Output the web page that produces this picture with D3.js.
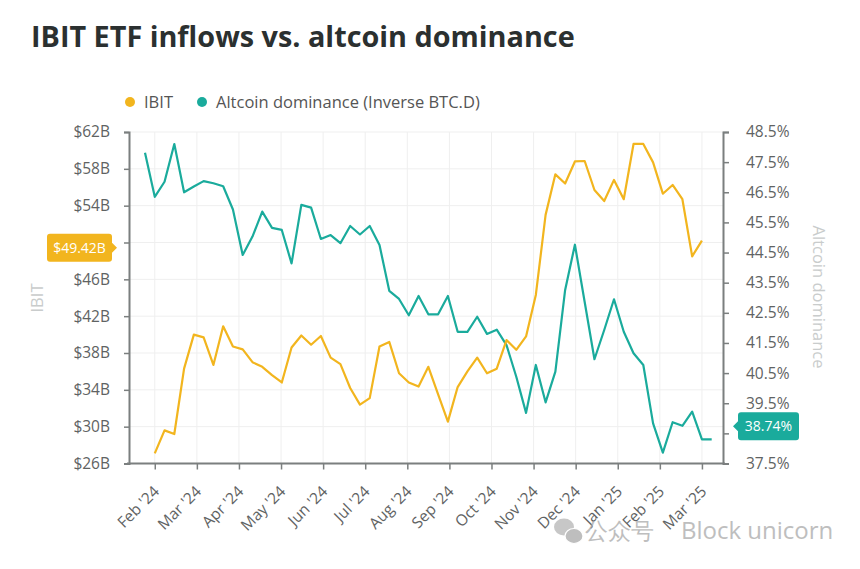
<!DOCTYPE html>
<html>
<head>
<meta charset="utf-8">
<script src="https://cdn.jsdelivr.net/npm/d3@7"></script>
<style>
  html, body { margin: 0; padding: 0; background: #fff; }
  text { font-family: "Open Sans", "Noto Sans", sans-serif; }
</style>
</head>
<body>
<div id="app"></div>
<script>
// weekly points, index 0 = one week before the Feb '24 tick
const months = ["Feb '24", "Mar '24", "Apr '24", "May '24", "Jun '24", "Jul '24", "Aug '24",
  "Sep '24", "Oct '24", "Nov '24", "Dec '24", "Jan '25", "Feb '25", "Mar '25"];

// IBIT, $B, weeks 1..57
const ibitStart = 1;
const ibit = [27.1, 29.6, 29.2, 36.3, 40.0, 39.7, 36.7, 40.9, 38.7, 38.4, 37.0, 36.5, 35.6, 34.8,
  38.6, 39.9, 38.9, 39.85, 37.5, 36.8, 34.2, 32.4, 33.1, 38.7, 39.2, 35.8, 34.8, 34.35,
  36.5, 33.5, 30.55, 34.3, 36.0, 37.5, 35.8, 36.3, 39.4, 38.35, 39.8, 44.3, 53.0, 57.4,
  56.4, 58.8, 58.85, 55.7, 54.5, 56.8, 54.7, 60.7, 60.7, 58.7, 55.3, 56.25, 54.7, 48.5, 50.2];

// Altcoin dominance (inverse BTC.D), %, weeks 0..58
const altStart = 0;
const altcoin = [47.81, 46.35, 46.85, 48.1, 46.5, 46.69, 46.87, 46.8, 46.7, 45.93, 44.42, 45.03,
  45.86, 45.32, 45.25, 44.14, 46.08, 45.99, 44.95, 45.08, 44.81, 45.38, 45.1, 45.38, 44.75,
  43.23, 42.96, 42.42, 43.06, 42.45, 42.45, 43.06, 41.87, 41.87, 42.37, 41.8, 41.94, 41.43,
  40.38, 39.18, 40.77, 39.53, 40.55, 43.26, 44.76, 42.86, 40.96, 41.93, 42.95, 41.87, 41.16,
  40.77, 38.83, 37.86, 38.87, 38.75, 39.22, 38.3, 38.3];

const leftTicks = [26, 30, 34, 38, 42, 46, 50, 54, 58, 62];
const rightTicks = [37.5, 38.5, 39.5, 40.5, 41.5, 42.5, 43.5, 44.5, 45.5, 46.5, 47.5, 48.5];

const ibitLast = 49.42;
const altLast = 38.74;

const screen = { width: 860, height: 569 };
const plot = { left: 129, right: 723, top: 132, bottom: 463.5 };
const colors = {
  ibit: "#f2b51e",
  alt: "#1aab9c",
  text: "#2b3030",
  tick: "#5f6363",
  axis: "#7b7f7f",
  grid: "#efefef",
  axisTitle: "#c9cccc"
};

const scales = {
  x: d3.scaleLinear().domain([0, 58]).range([145, 711.7]),
  yLeft: d3.scaleLinear().domain([26, 62]).range([plot.bottom, plot.top]),
  yRight: d3.scaleLinear().domain([37.5, 48.5]).range([plot.bottom, plot.top])
};

// month ticks are evenly spaced from week 1 to week 57
const monthPos = months.map((m, i) => 1 + i * 56 / (months.length - 1));

const svg = d3.select("#app")
  .append("svg")
  .attr("width", screen.width)
  .attr("height", screen.height);

// title
svg.append("text")
  .attr("x", 31)
  .attr("y", 47)
  .attr("fill", colors.text)
  .attr("font-size", 28.8)
  .attr("font-weight", 700)
  .text("IBIT ETF inflows vs. altcoin dominance");

// legend
const legend = svg.append("g").attr("font-size", 16.5).attr("fill", "#555");
[
  { label: "IBIT", color: colors.ibit, x: 130 },
  { label: "Altcoin dominance (Inverse BTC.D)", color: colors.alt, x: 202 }
].forEach((d) => {
  legend.append("circle").attr("cx", d.x).attr("cy", 102).attr("r", 5).attr("fill", d.color);
  legend.append("text").attr("x", d.x + 14).attr("y", 108).text(d.label);
});

// grid
const grid = svg.append("g");
grid.selectAll("line.h")
  .data(leftTicks.filter((t) => t > 26))
  .join("line")
  .attr("x1", plot.left).attr("x2", plot.right)
  .attr("y1", (d) => scales.yLeft(d)).attr("y2", (d) => scales.yLeft(d))
  .attr("stroke", colors.grid).attr("stroke-width", 1);
grid.selectAll("line.v")
  .data(monthPos)
  .join("line")
  .attr("x1", (d) => scales.x(d)).attr("x2", (d) => scales.x(d))
  .attr("y1", plot.top).attr("y2", plot.bottom)
  .attr("stroke", colors.grid).attr("stroke-width", 1);

// axes
const styleAxis = (g) => {
  g.select(".domain").attr("stroke", colors.axis).attr("stroke-width", 2);
  g.selectAll(".tick line").attr("stroke", colors.axis).attr("stroke-width", 1.5);
  g.selectAll(".tick text").attr("fill", colors.tick).attr("font-size", 15.5)
    .attr("font-family", "'Open Sans', sans-serif");
};

// the tick labels under the last-value callouts are hidden in the original
svg.append("g")
  .attr("transform", `translate(${plot.left},0)`)
  .call(d3.axisLeft(scales.yLeft).tickValues(leftTicks)
    .tickFormat((d) => (d === 50 ? "" : `$${d}B`))
    .tickSizeInner(5).tickSizeOuter(5).tickPadding(14))
  .call(styleAxis);

svg.append("g")
  .attr("transform", `translate(${plot.right},0)`)
  .call(d3.axisRight(scales.yRight).tickValues(rightTicks)
    .tickFormat((d) => (d === 38.5 ? "" : `${d.toFixed(1)}%`))
    .tickSizeInner(6).tickSizeOuter(6).tickPadding(17))
  .call(styleAxis);

const xAxis = svg.append("g")
  .attr("transform", `translate(0,${plot.bottom})`)
  .call(d3.axisBottom(scales.x).tickValues(monthPos).tickFormat((d, i) => months[i])
    .tickSizeInner(6).tickSizeOuter(0))
  .call(styleAxis);
xAxis.select(".domain").attr("d", `M${plot.left - 2},0H${plot.right + 2}`);
xAxis.selectAll(".tick text")
  .attr("text-anchor", "end")
  .attr("dy", 0)
  .attr("y", 0)
  .attr("transform", "translate(5,29) rotate(-45)");

// axis titles
svg.append("text")
  .attr("transform", "translate(43,298) rotate(-90)")
  .attr("text-anchor", "middle")
  .attr("fill", colors.axisTitle)
  .attr("font-size", 16.5)
  .text("IBIT");

svg.append("text")
  .attr("transform", "translate(813,297) rotate(90)")
  .attr("text-anchor", "middle")
  .attr("fill", colors.axisTitle)
  .attr("font-size", 16.5)
  .text("Altcoin dominance");

// lines
const lineIbit = d3.line()
  .x((d, i) => scales.x(ibitStart + i))
  .y((d) => scales.yLeft(d));
const lineAlt = d3.line()
  .x((d, i) => scales.x(altStart + i))
  .y((d) => scales.yRight(d));

svg.append("path")
  .datum(altcoin)
  .attr("d", lineAlt)
  .attr("fill", "none")
  .attr("stroke", colors.alt)
  .attr("stroke-width", 2.2)
  .attr("stroke-linejoin", "round");

svg.append("path")
  .datum(ibit)
  .attr("d", lineIbit)
  .attr("fill", "none")
  .attr("stroke", colors.ibit)
  .attr("stroke-width", 2.2)
  .attr("stroke-linejoin", "round");

// last-value callouts
const yI = scales.yLeft(ibitLast);
svg.append("path")
  .attr("d", `M50,${yI - 14}H109a3,3 0 0 1 3,3V${yI - 5}L117,${yI}L112,${yI + 5}V${yI + 11}a3,3 0 0 1 -3,3H50a3,3 0 0 1 -3,-3V${yI - 11}a3,3 0 0 1 3,-3Z`)
  .attr("fill", colors.ibit);
svg.append("text")
  .attr("x", 79.5).attr("y", yI + 5)
  .attr("text-anchor", "middle")
  .attr("fill", "#fff")
  .attr("font-size", 14)
  .text(`$${ibitLast}B`);

const yA = scales.yRight(altLast);
svg.append("path")
  .attr("d", `M741,${yA - 14}H796a3,3 0 0 1 3,3V${yA + 11}a3,3 0 0 1 -3,3H741a3,3 0 0 1 -3,-3V${yA + 5}L733,${yA}L738,${yA - 5}V${yA - 11}a3,3 0 0 1 3,-3Z`)
  .attr("fill", colors.alt);
svg.append("text")
  .attr("x", 768.5).attr("y", yA + 5)
  .attr("text-anchor", "middle")
  .attr("fill", "#fff")
  .attr("font-size", 14)
  .text(`${altLast}%`);

// watermark
const wm = svg.append("g").attr("opacity", 0.75).attr("fill", "#a9a9a9");
wm.append("ellipse").attr("cx", 564).attr("cy", 527).attr("rx", 10).attr("ry", 8.5).attr("fill", "#b5b5b5");
wm.append("ellipse").attr("cx", 574).attr("cy", 536).attr("rx", 9).attr("ry", 7.5)
  .attr("stroke", "#fff").attr("stroke-width", 1.2);
wm.append("text")
  .attr("x", 585).attr("y", 539)
  .attr("font-size", 22.5)
  .attr("font-family", "'Noto Sans CJK SC', sans-serif")
  .text("公众号");
wm.append("text")
  .attr("x", 681).attr("y", 539)
  .attr("font-size", 24)
  .attr("font-family", "'Noto Sans', sans-serif")
  .text("Block unicorn");
</script>
</body>
</html>
